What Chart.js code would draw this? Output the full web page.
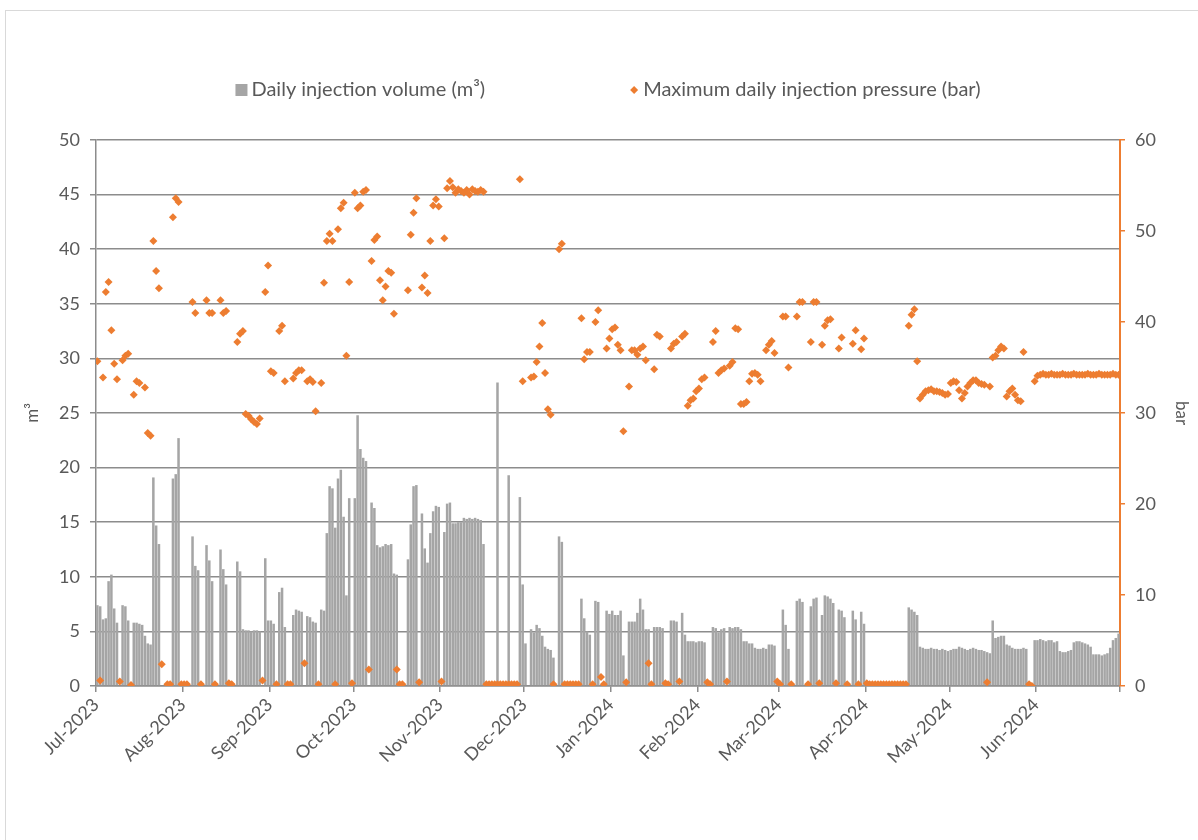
<!DOCTYPE html>
<html>
<head>
<meta charset="utf-8">
<script src="https://cdn.jsdelivr.net/npm/chart.js@4.4.1/dist/chart.umd.min.js"></script>
<style>
  html, body { margin: 0; padding: 0; background: #fff; }
  #moldura { position: absolute; left: 5px; top: 10px; width: 1200px; height: 840px; border-left: 1px solid #d9d9d9; border-top: 1px solid #d9d9d9; }
  #grafico { position: absolute; left: 0; top: 0; }
</style>
</head>
<body>
<div id="moldura"></div>
<canvas id="grafico" width="1198" height="840"></canvas>
<script>
// one value per day, 1 Jul 2023 .. 30 Jun 2024
const startDate = [2023, 6, 1];
const monthLabels = ['Jul-2023', 'Aug-2023', 'Sep-2023', 'Oct-2023', 'Nov-2023', 'Dec-2023',
  'Jan-2024', 'Feb-2024', 'Mar-2024', 'Apr-2024', 'May-2024', 'Jun-2024'];

const volumeLabel = 'Daily injection volume (m³)';
const pressureLabel = 'Maximum daily injection pressure (bar)';

// daily injection volume (m3)
const volume = [
  // Jul
  7.4, 7.3, 6.1, 6.2, 9.6, 10.2, 7.1, 5.8, 0, 7.4, 7.3, 6.0, 0, 5.8, 5.8, 5.7, 5.6, 4.6, 3.9, 3.8,
  19.1, 14.7, 13.0, 0, 0, 0, 0, 19.0, 19.4, 22.7, 0,
  // Aug
  0, 0, 0, 13.7, 11.0, 10.6, 0, 0, 12.9, 11.5, 9.6, 0, 0, 12.5, 10.7, 9.3, 0, 0, 0, 11.4,
  10.5, 5.2, 5.1, 5.1, 5.0, 5.1, 5.1, 5.0, 0, 11.7, 6.0,
  // Sep
  6.0, 5.7, 0, 8.6, 9.0, 5.4, 0, 0, 6.5, 7.0, 6.9, 6.8, 0, 6.4, 6.3, 5.9, 5.8, 0, 7.0, 6.9,
  14.0, 18.3, 18.1, 14.5, 19.0, 19.8, 15.5, 8.3, 17.2, 0,
  // Oct
  17.2, 24.8, 21.7, 20.9, 20.6, 0, 16.8, 16.3, 12.9, 12.7, 12.8, 13.0, 12.9, 13.0, 10.3, 10.2,
  0, 0, 0, 11.6, 14.8, 18.3, 18.4, 0, 15.8, 12.6, 11.3, 14.0, 16.0, 16.5, 16.4,
  // Nov
  0, 14.1, 16.7, 16.8, 14.9, 14.9, 15.0, 15.0, 15.4, 15.3, 15.4, 15.3, 15.4, 15.3, 15.2, 13.0,
  0, 0, 0, 0, 27.8, 0, 0, 0, 19.3, 0, 0, 0, 17.3, 9.3,
  // Dec
  3.9, 0, 5.2, 4.9, 5.6, 5.3, 4.6, 3.6, 3.4, 3.3, 2.6, 0, 13.7, 13.2, 0, 0, 0, 0, 0, 0,
  8.0, 6.2, 5.0, 4.7, 0, 7.8, 7.7, 0, 0, 6.9, 6.6,
  // Jan
  6.9, 6.5, 6.5, 6.9, 2.8, 0, 5.9, 5.9, 5.9, 6.7, 8.0, 7.0, 5.2, 5.2, 0, 5.4, 5.4, 5.4, 5.3, 0,
  0, 6.0, 6.0, 5.9, 0, 6.7, 4.7, 4.1, 4.1, 4.1, 4.0,
  // Feb
  4.1, 4.1, 4.0, 0, 0, 5.4, 5.3, 4.9, 5.2, 5.3, 0, 5.4, 5.3, 5.4, 5.4, 5.2, 4.1, 4.1, 3.9, 3.9,
  3.5, 3.4, 3.4, 3.5, 3.4, 3.8, 3.8, 3.7, 0,
  // Mar
  0, 7.0, 5.6, 3.4, 0, 0, 7.8, 8.0, 7.7, 0, 0, 7.3, 8.0, 8.1, 0, 6.5, 8.3, 8.2, 8.0, 7.6,
  0, 7.0, 6.9, 6.3, 0, 0, 6.9, 6.1, 0, 6.8, 5.7,
  // Apr
  0, 0, 0, 0, 0, 0, 0, 0, 0, 0, 0, 0, 0, 0, 0, 7.2, 7.0, 6.8, 6.5, 3.6,
  3.5, 3.4, 3.4, 3.5, 3.4, 3.4, 3.3, 3.4, 3.3, 3.2,
  // May
  3.3, 3.4, 3.4, 3.6, 3.5, 3.4, 3.3, 3.4, 3.5, 3.4, 3.3, 3.3, 3.2, 3.1, 3.0, 6.0, 4.4, 4.5, 4.6, 4.6,
  3.8, 3.7, 3.5, 3.4, 3.4, 3.4, 3.5, 3.4, 0, 0, 4.2,
  // Jun
  4.2, 4.3, 4.2, 4.1, 4.2, 4.2, 4.0, 4.1, 3.2, 3.1, 3.1, 3.2, 3.3, 4.0, 4.1, 4.1, 4.0, 3.9, 3.8, 3.6,
  2.9, 2.9, 2.9, 2.8, 2.9, 3.0, 3.5, 4.2, 4.4, 4.8
];

// maximum daily injection pressure (bar), null = no reading
const pressure = [
  // Jul
  35.7, 0.6, 33.9, 43.3, 44.4, 39.1, 35.4, 33.7, 0.5, 35.8, 36.3, 36.5, 0.1, 32.0, 33.5, 33.3, null, 32.8, 27.8, 27.5,
  48.9, 45.6, 43.7, 2.4, null, 0.2, 0.2, 51.5, 53.6, 53.2, 0.2,
  // Aug
  0.2, 0.2, null, 42.2, 41.0, null, 0.2, null, 42.4, 41.0, 41.0, 0.2, null, 42.4, 41.0, 41.2, 0.3, 0.2, null, 37.8,
  38.7, 39.0, 29.9, 29.7, 29.3, 29.0, 28.8, 29.4, 0.6, 43.3, 46.2,
  // Sep
  34.6, 34.4, 0.2, 39.0, 39.6, 33.5, 0.2, 0.2, 33.8, 34.4, 34.7, 34.7, 2.5, 33.5, 33.7, 33.4, 30.2, 0.2, 33.3, 44.3,
  48.9, 49.7, 48.9, 0.2, 50.2, 52.5, 53.1, 36.3, 44.4, 0.3,
  // Oct
  54.2, 52.5, 52.8, 54.3, 54.5, 1.8, 46.7, 49.0, 49.4, 44.6, 42.4, 43.9, 45.6, 45.4, 40.9, 1.8,
  0.2, 0.2, null, 43.5, 49.6, 52.0, 53.6, 0.4, 43.8, 45.1, 43.2, 48.9, 52.8, 53.5, 52.7,
  // Nov
  0.5, 49.2, 54.7, 55.5, 54.8, 54.2, 54.6, 54.4, 54.2, 54.5, 54.0, 54.6, 54.4, 54.3, 54.5, 54.3,
  0.2, 0.2, 0.2, 0.2, 0.2, 0.2, 0.2, 0.2, 0.2, 0.2, 0.2, 0.2, 55.7, 33.5,
  // Dec
  null, null, 33.9, 34.0, 35.6, 37.3, 39.9, 34.4, 30.4, 29.8, 0.2, null, 48.0, 48.6, 0.2, 0.2, 0.2, 0.2, 0.2, 0.2,
  40.4, 35.9, 36.7, 36.7, 0.2, 40.0, 41.3, 1.0, 0.2, 37.1, 38.2,
  // Jan
  39.2, 39.4, 37.5, 36.9, 28.0, 0.4, 32.9, 36.9, 36.9, 36.4, 37.1, 37.3, 35.8, 2.5, 0.2, 34.8, 38.6, 38.4, null, 0.3,
  0.2, 37.1, 37.6, 37.8, 0.5, 38.4, 38.7, 30.8, 31.4, 31.6, 32.4,
  // Feb
  32.7, 33.7, 33.9, 0.4, 0.2, 37.8, 39.0, 34.4, 34.7, 34.9, 0.5, 35.2, 35.6, 39.3, 39.2, 31.0, 31.0, 31.2, 33.5, 34.3,
  34.4, 34.2, 33.5, null, 36.9, 37.5, 37.9, 36.6, 0.5,
  // Mar
  0.2, 40.6, 40.6, 35.0, 0.2, null, 40.6, 42.2, 42.2, null, 0.2, 37.8, 42.2, 42.2, 0.3, 37.5, 39.6, 40.2, 40.3, null,
  0.3, 37.1, 38.3, null, 0.2, null, 37.6, 39.1, 0.2, 37.0, 38.2,
  // Apr
  0.3, 0.2, 0.2, 0.2, 0.2, 0.2, 0.2, 0.2, 0.2, 0.2, 0.2, 0.2, 0.2, 0.2, 0.2, 39.6, 40.8, 41.4, 35.7, 31.6,
  32.0, 32.4, 32.5, 32.6, 32.4, 32.4, 32.3, 32.2, 32.0, 32.1,
  // May
  33.3, 33.5, 33.4, 32.5, 31.6, 32.2, 32.9, 33.3, 33.6, 33.6, 33.3, 33.2, 33.1, 0.4, 32.9, 36.1, 36.3, 36.9, 37.3, 37.1,
  31.8, 32.4, 32.7, 32.0, 31.4, 31.3, 36.7, null, 0.2, 0.0, 33.5,
  // Jun
  34.1, 34.2, 34.3, 34.2, 34.2, 34.3, 34.2, 34.2, 34.2, 34.3, 34.2, 34.2, 34.2, 34.3, 34.2, 34.2, 34.2, 34.2, 34.3, 34.2,
  34.2, 34.2, 34.3, 34.2, 34.2, 34.2, 34.2, 34.3, 34.2, 34.2
];

const cinza = '#a5a5a5';
const laranja = '#ed7d31';
const linhaGrade = '#8c8c8c';
const corTexto = '#595959';
const fonte = 'Lato';

// day index of each month start (for the x ticks)
const t0 = Date.UTC(startDate[0], startDate[1], startDate[2]);
const inicioMes = [];
for (let m = 0; m <= monthLabels.length; m++) {
  inicioMes.push(Math.round((Date.UTC(startDate[0], startDate[1] + m, 1) - t0) / 86400000));
}

const volumePts = volume.map((v, i) => ({ x: i + 0.5, y: v }));
const pressurePts = pressure.map((v, i) => ({ x: i + 0.5, y: v }));

// legend drawn above the plot, like the original
const legendaTopo = {
  id: 'legendaTopo',
  afterDraw(chart) {
    const c = chart.ctx;
    const area = chart.chartArea;
    c.save();
    c.font = '20px ' + fonte;
    c.textBaseline = 'middle';
    const y = 90;
    const gap = 145;
    const w1 = 16 + c.measureText(volumeLabel).width;
    const w2 = 13 + c.measureText(pressureLabel).width;
    let x = (area.left + area.right) / 2 - (w1 + gap + w2) / 2;
    c.fillStyle = cinza;
    c.fillRect(x, y - 6, 12, 12);
    c.fillStyle = corTexto;
    c.fillText(volumeLabel, x + 16, y);
    x += w1 + gap;
    c.fillStyle = laranja;
    c.beginPath();
    c.moveTo(x + 4, y - 4);
    c.lineTo(x + 8, y);
    c.lineTo(x + 4, y + 4);
    c.lineTo(x, y);
    c.closePath();
    c.fill();
    c.fillStyle = corTexto;
    c.fillText(pressureLabel, x + 13, y);
    c.restore();
  }
};

const ctx = document.getElementById('grafico').getContext('2d');
new Chart(ctx, {
  data: {
    datasets: [
      {
        type: 'bar',
        label: volumeLabel,
        data: volumePts,
        backgroundColor: cinza,
        barPercentage: 0.9,
        categoryPercentage: 1,
        yAxisID: 'y',
        order: 2
      },
      {
        type: 'line',
        label: pressureLabel,
        data: pressurePts,
        showLine: false,
        pointStyle: 'rectRot',
        pointRadius: 4,
        pointBorderWidth: 0,
        backgroundColor: laranja,
        borderColor: laranja,
        yAxisID: 'y1',
        order: 1
      }
    ]
  },
  plugins: [legendaTopo],
  options: {
    responsive: false,
    animation: false,
    layout: { padding: { top: 140, bottom: 54, left: 10, right: 6 } },
    plugins: {
      legend: { display: false },
      tooltip: { enabled: false }
    },
    scales: {
      x: {
        type: 'linear',
        offset: false,
        min: 0,
        max: inicioMes[inicioMes.length - 1],
        afterBuildTicks(s) { s.ticks = inicioMes.map(v => ({ value: v })); },
        afterFit(s) { s.height = 100; },
        ticks: {
          autoSkip: false,
          minRotation: 45,
          maxRotation: 45,
          padding: 2,
          color: corTexto,
          font: { family: fonte, size: 18 },
          callback: (v, i) => monthLabels[i] || ''
        },
        grid: { offset: false, drawOnChartArea: false, color: linhaGrade, lineWidth: 1.5, tickLength: 6 },
        border: { color: linhaGrade, width: 1.5 }
      },
      y: {
        position: 'left',
        min: 0,
        max: 50,
        afterFit(s) { s.width = 86; },
        ticks: { stepSize: 5, padding: 10, color: corTexto, font: { family: fonte, size: 18 } },
        grid: { color: linhaGrade, lineWidth: 1.5, tickLength: 6 },
        border: { color: linhaGrade, width: 1.5 },
        title: { display: true, text: 'm³', color: corTexto, font: { family: fonte, size: 17 }, padding: { top: 12 } }
      },
      y1: {
        position: 'right',
        min: 0,
        max: 60,
        afterFit(s) { s.width = 72; },
        ticks: { stepSize: 10, padding: 10, color: corTexto, font: { family: fonte, size: 18 } },
        grid: { drawOnChartArea: false, color: laranja, lineWidth: 1.5, tickLength: 5 },
        border: { color: laranja, width: 2 },
        title: { display: true, text: 'bar', color: corTexto, font: { family: fonte, size: 17 }, padding: { top: 0 } }
      }
    }
  }
});
</script>
</body>
</html>
